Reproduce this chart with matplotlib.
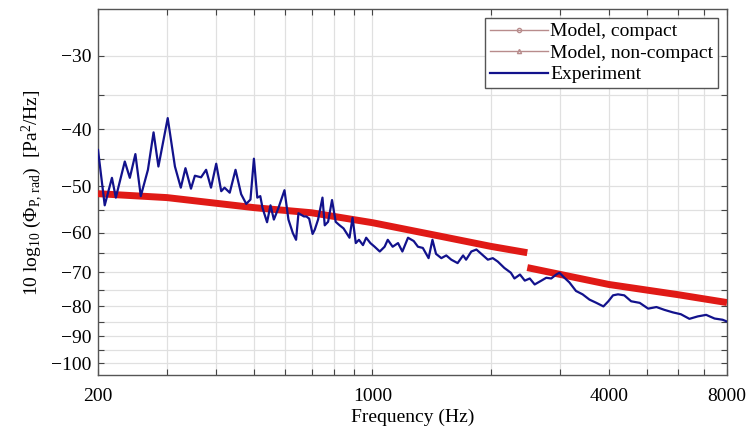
import numpy as np
import matplotlib
matplotlib.use("Agg")
import matplotlib.pyplot as plt
from matplotlib.lines import Line2D

plt.rcParams['font.family'] = 'Liberation Serif'
plt.rcParams['mathtext.fontset'] = 'custom'
plt.rcParams['mathtext.rm'] = 'Liberation Serif'
plt.rcParams['mathtext.it'] = 'Liberation Serif:italic'
plt.rcParams['mathtext.bf'] = 'Liberation Serif:bold'

# model curves (dB)
compact_f = [200, 300, 500, 700, 1000, 1500, 2000, 2480]
compact_v = [-51.5, -52.3, -54.4, -55.5, -57.7, -60.9, -63.3, -64.9]
noncompact_f = [2480, 4000, 6000, 8000]
noncompact_v = [-68.8, -73.5, -76.5, -78.9]

# measured spectrum
exp_f = [200, 208, 217, 222, 234, 241, 249, 257, 268, 277, 285, 301, 314, 325,
         334, 345, 353, 366, 377, 388, 400, 412, 420, 433, 448, 463, 477, 489,
         499, 509, 518, 525, 539, 550, 561, 576, 597, 611, 627, 639, 648, 669,
         679, 690, 704, 713, 727, 746, 756, 771, 789, 806, 825, 844, 874, 890,
         907, 924, 946, 964, 988, 1013, 1044, 1074, 1094, 1126, 1162, 1192,
         1232, 1274, 1306, 1344, 1390, 1422, 1452, 1498, 1542, 1588, 1648, 1702,
         1732, 1786, 1840, 1894, 1968, 2026, 2086, 2168, 2252, 2300, 2376, 2444,
         2516, 2590, 2694, 2772, 2854, 2938, 2994, 3084, 3174, 3300, 3430, 3572,
         3720, 3876, 3990, 4100, 4222, 4380, 4560, 4796, 5040, 5290, 5545, 5826,
         6106, 6418, 6740, 7080, 7440, 7800, 8000]
exp_v = [-43.4, -53.9, -48.4, -52.3, -45.4, -48.4, -44.1, -52.0, -46.9, -40.5,
         -46.3, -38.3, -46.3, -50.3, -46.6, -50.5, -48.0, -48.3, -46.9, -50.3,
         -45.8, -51.0, -50.3, -51.3, -46.9, -51.6, -53.6, -52.7, -44.9, -52.3,
         -52.0, -54.5, -57.6, -53.9, -57.0, -54.5, -50.8, -57.0, -60.1, -61.7,
         -55.6, -56.3, -56.3, -56.8, -60.3, -59.3, -57.0, -52.3, -58.3, -57.5,
         -52.8, -57.5, -58.3, -59.0, -61.2, -56.6, -62.5, -61.7, -63.0, -61.2,
         -62.5, -63.4, -64.6, -63.4, -61.7, -63.4, -62.5, -64.6, -61.2, -62.0,
         -63.4, -63.7, -66.3, -61.7, -65.2, -66.3, -65.6, -66.7, -67.6, -65.6,
         -66.7, -64.6, -64.1, -65.2, -66.7, -66.3, -67.2, -68.9, -70.2, -71.8,
         -70.7, -72.4, -71.8, -73.5, -72.4, -71.6, -71.8, -70.7, -70.2, -71.6,
         -72.9, -75.4, -76.4, -78.0, -79.0, -80.1, -78.5, -76.7, -76.4, -76.7,
         -78.5, -79.0, -80.8, -80.3, -81.2, -82.0, -82.6, -84.1, -83.3, -82.8,
         -84.0, -84.4, -85.0]

x_major = [200, 1000, 4000, 8000]
x_minor = [300, 400, 500, 600, 700, 800, 900, 2000, 3000, 5000, 6000, 7000]
y_major = [-100, -90, -80, -70, -60, -50, -40, -30]
y_minor = [-95, -85, -75, -65, -55, -45, -35]


# y axis in the original is logarithmic in the magnitude of the dB value
def fwd(y):
    return -np.log10(np.clip(-np.asarray(y, dtype=float), 1e-6, None))


def inv(u):
    return -10.0 ** (-np.asarray(u, dtype=float))


fig = plt.figure(figsize=(7.5, 4.36), dpi=100)
ax = fig.add_axes([0.1307, 0.1388, 0.8386, 0.84])

red = '#e01a16'
blue = '#12128c'
ax.plot(compact_f, compact_v, color=red, lw=5, solid_capstyle='butt', zorder=3)
ax.plot(noncompact_f, noncompact_v, color=red, lw=5, solid_capstyle='butt', zorder=3)
ax.plot(exp_f, exp_v, color=blue, lw=1.6, zorder=4)

ax.set_xscale('log')
ax.set_yscale('function', functions=(fwd, inv))
ax.set_xlim(200, 8000)
ax.set_ylim(-105, -25)

ax.set_xticks(x_major)
ax.set_xticklabels([str(v) for v in x_major])
ax.set_xticks(x_minor, minor=True)
ax.set_xticklabels([], minor=True)
ax.set_yticks(y_major)
ax.set_yticklabels(['\u2212' + str(-v) for v in y_major])
ax.set_yticks(y_minor, minor=True)
ax.set_yticklabels([], minor=True)

ax.grid(True, which='both', color='#e0e0e0', lw=0.9)
ax.set_axisbelow(True)
ax.tick_params(which='both', direction='in', top=True, right=True,
               length=4, width=0.8, color='#444444', labelsize=14)
ax.tick_params(axis='x', which='both', pad=9)
ax.tick_params(axis='y', which='both', pad=5)
for s in ax.spines.values():
    s.set_color('#555555')
    s.set_linewidth(1.0)

ax.set_xlabel('Frequency (Hz)', fontsize=14, labelpad=3)
ax.set_ylabel(r'10 log$_{10}$ ($\Phi_{\mathrm{P,\,rad}}$)  [Pa$^2$/Hz]', fontsize=14,
              labelpad=4)

handles = [
    Line2D([], [], color='#b88c8c', lw=1, marker='o', ms=3, mfc='none'),
    Line2D([], [], color='#b88c8c', lw=1, marker='^', ms=3, mfc='none'),
    Line2D([], [], color=blue, lw=1.6),
]
leg = ax.legend(handles, ['Model, compact', 'Model, non-compact', 'Experiment'],
                loc='upper right', fontsize=14, fancybox=False, framealpha=1,
                edgecolor='#555555', handlelength=3.0, handletextpad=0.1,
                borderpad=0.25, labelspacing=0.2, borderaxespad=0.45)
leg.get_frame().set_linewidth(1.0)

fig.savefig('out.png', dpi=100)
